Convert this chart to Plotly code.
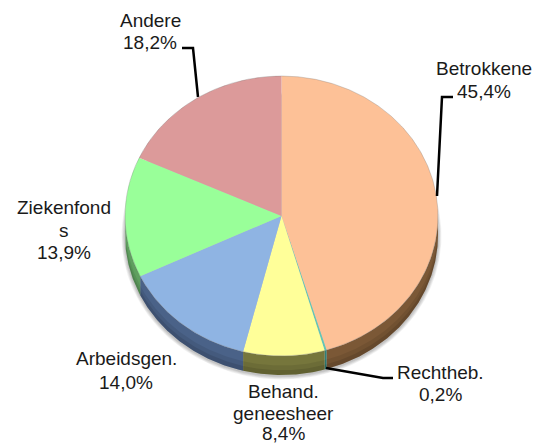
import numpy as np
import plotly.graph_objects as go

W, H = 540, 445

slices = ['Betrokkene', 'Rechtheb.', 'Behand. geneesheer', 'Arbeidsgen.', 'Ziekenfonds', 'Andere']
values = [45.4, 0.2, 8.4, 14.0, 13.9, 18.2]
top_colors = ['#fdc197', '#62c6b6', '#ffff99', '#8fb4e3', '#99ff99', '#dc9a9a']
side_colors = ['#7b5836', '#2f7f78', '#76763c', '#4a6288', '#5f9f5f', '#8a5a5a']

# label lines, centre x, y of each line (px)
label_lines = [
    (['Betrokkene'], 484, [68, 91], 0),
    (['Rechtheb.'], 440, [372, 394], 1),
    (['Behand.', 'geneesheer'], 283, [391, 413, 433], 2),
    (['Arbeidsgen.'], 126, [358, 382], 3),
    (['Ziekenfond', 's'], 64, [207, 230, 252], 4),
    (['Andere'], 150, [20, 42], 5),
]
leaders = [
    [(453, 97), (442, 97), (437, 196)],
    [(326, 368), (383, 378), (393, 378)],
    [(182, 48), (193, 48), (198, 97)],
]

# pie geometry in px, the top face is an ellipse
cx, cy, rx, ry, depth = 281.5, 216, 156.5, 140, 19


def arc(a0, a1, dy=0.0, grow=0.0):
    t = np.radians(np.linspace(a0, a1, max(int(abs(a1 - a0)) * 2, 2)))
    return cx + (rx + grow) * np.sin(t), cy + dy - (ry + grow) * np.cos(t)


fig = go.Figure()


def add_poly(x, y, color):
    fig.add_trace(go.Scatter(x=x, y=y, mode='lines', fill='toself', fillcolor=color,
                             line=dict(width=0), hoverinfo='skip', showlegend=False))


# soft shadow below the pie
for i in range(5):
    x, y = arc(0, 360, dy=depth + 1, grow=3.5 - i * 0.7)
    add_poly(x, y, 'rgba(0,0,0,0.05)')

edges = np.cumsum([0] + values) / sum(values) * 360

# side wall, only the front half of the ellipse shows it
for i, c in enumerate(side_colors):
    a0, a1 = max(edges[i], 90), min(edges[i + 1], 270)
    if a1 <= a0:
        continue
    x0, y0 = arc(a0, a1)
    x1, y1 = arc(a1, a0, dy=depth)
    add_poly(np.r_[x0, x1], np.r_[y0, y1], c)
    # lower part of the wall is a bit darker
    for frac, alpha in [(0.5, 0.08), (0.75, 0.1)]:
        x0, y0 = arc(a0, a1, dy=depth * frac)
        add_poly(np.r_[x0, x1], np.r_[y0, y1], f'rgba(0,0,0,{alpha})')

# top face
for i, c in enumerate(top_colors):
    x, y = arc(edges[i], edges[i + 1])
    add_poly(np.r_[cx, x, cx], np.r_[cy, y, cy], c)

x, y = arc(0, 360)
fig.add_trace(go.Scatter(x=x, y=y, mode='lines', line=dict(color='rgba(120,120,120,0.3)', width=1),
                         hoverinfo='skip', showlegend=False))

for lines, lx, ys, idx in label_lines:
    pct = f'{values[idx]:.1f}'.replace('.', ',') + '%'
    for text, ly in zip(lines + [pct], ys):
        fig.add_annotation(x=lx, y=ly, text=text, showarrow=False, xanchor='center', yanchor='middle',
                           font=dict(family='Liberation Sans', size=19, color='#1a1a1a'))

for pts in leaders:
    path = 'M ' + ' L '.join(f'{a} {b}' for a, b in pts)
    fig.add_shape(type='path', path=path, line=dict(color='#000000', width=2.5))

fig.update_xaxes(range=[0, W], visible=False)
fig.update_yaxes(range=[H, 0], visible=False)
fig.update_layout(width=W, height=H, margin=dict(l=0, r=0, t=0, b=0),
                  paper_bgcolor='white', plot_bgcolor='white', showlegend=False)

# the page's default body margin would push the chart off the window
fig.write_html('out.html', post_script="document.body.style.margin='0';",
               config=dict(displayModeBar=False))
